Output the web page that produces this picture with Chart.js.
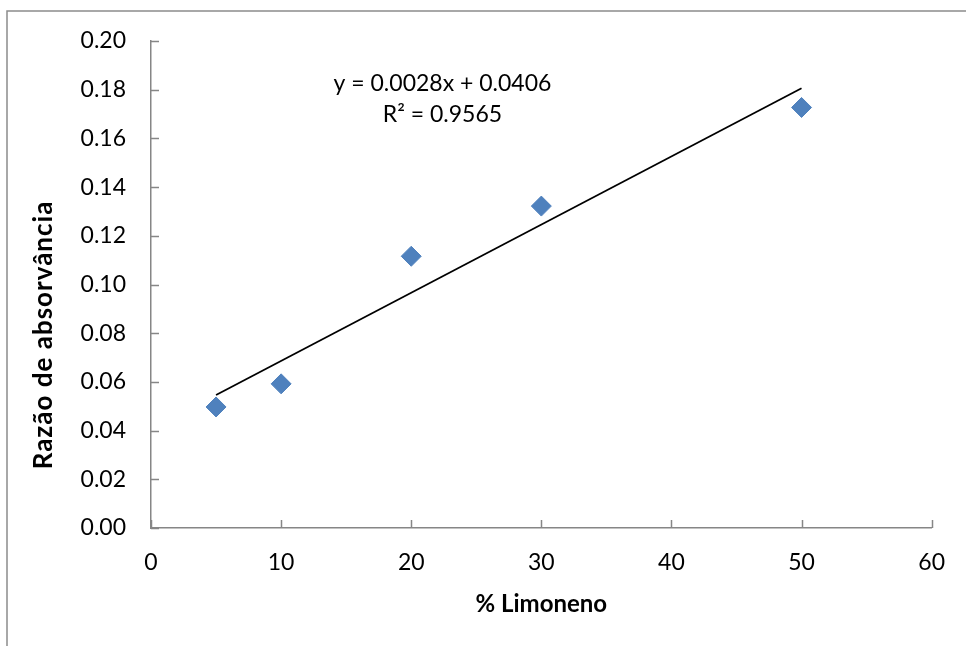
<!DOCTYPE html>
<html>
<head>
<meta charset="utf-8">
<script src="https://cdn.jsdelivr.net/npm/chart.js@4.4.1/dist/chart.umd.min.js"></script>
<style>
  html, body { margin: 0; padding: 0; background: #fff; }
  #wrap { width: 966px; height: 646px; }
</style>
</head>
<body>
<div id="wrap"><canvas id="limChart" width="966" height="646"></canvas></div>
<script>
// data
const limoneno = [5, 10, 20, 30, 50];
const razao = [0.0497, 0.0592, 0.1116, 0.1322, 0.1727];

// linear trendline endpoints (y = 0.0028x + 0.0406)
const trendX = [5, 50];
const trendY = [0.0546, 0.1806];

const equationLines = ['y = 0.0028x + 0.0406', 'R\u00b2 = 0.9565'];
const equationPos = [[22.4, 0.1825], [22.4, 0.1697]];
const yTitle = 'Razão de absorvância';
const xTitle = '% Limoneno';

const FONT = 'Lato, "Liberation Sans", sans-serif';
const AXIS_GREY = '#868686';

// Excel style: ticks point into the plot, frame around chart, trendline label
const excelBits = {
    id: 'excelBits',
    beforeDraw(chart) {
        const ctx = chart.ctx;
        ctx.save();
        ctx.strokeStyle = '#8c8c8c';
        ctx.lineWidth = 1.5;
        ctx.strokeRect(7, 11, 1200, 1000);
        ctx.restore();
    },
    afterDraw(chart) {
        const ctx = chart.ctx;
        const xs = chart.scales.x;
        const ys = chart.scales.y;
        const area = chart.chartArea;
        ctx.save();
        ctx.strokeStyle = AXIS_GREY;
        ctx.lineWidth = 1.5;
        ctx.beginPath();
        xs.ticks.forEach(t => {
            const px = Math.round(xs.getPixelForValue(t.value)) + 0.5;
            ctx.moveTo(px, area.bottom);
            ctx.lineTo(px, area.bottom - 8);
        });
        ys.ticks.forEach(t => {
            const py = Math.round(ys.getPixelForValue(t.value)) + 0.5;
            ctx.moveTo(area.left, py);
            ctx.lineTo(area.left + 8, py);
        });
        ctx.stroke();

        ctx.fillStyle = '#000';
        ctx.font = '23px ' + FONT;
        ctx.textAlign = 'center';
        ctx.textBaseline = 'middle';
        equationLines.forEach((txt, i) => {
            const p = equationPos[i];
            ctx.fillText(txt, xs.getPixelForValue(p[0]), ys.getPixelForValue(p[1]));
        });

        // y axis title sits lower than the middle of the axis, as in Excel
        ctx.font = 'bold 26px ' + FONT;
        ctx.letterSpacing = '1px';
        ctx.translate(44, 335);
        ctx.rotate(-Math.PI / 2);
        ctx.fillText(yTitle, 0, 0);
        ctx.restore();
    }
};

new Chart('limChart', {
    type: 'scatter',
    data: {
        datasets: [
            {
                label: yTitle,
                data: limoneno.map((x, i) => ({ x: x, y: razao[i] })),
                backgroundColor: '#4F81BD',
                borderColor: '#4F81BD',
                borderWidth: 1,
                pointStyle: 'rectRot',
                pointRadius: 10,
                order: 1
            },
            {
                type: 'line',
                label: 'Linear',
                data: trendX.map((x, i) => ({ x: x, y: trendY[i] })),
                borderColor: '#000',
                borderWidth: 1.8,
                pointRadius: 0,
                fill: false,
                order: 2
            }
        ]
    },
    options: {
        responsive: false,
        animation: false,
        devicePixelRatio: 1,
        layout: { padding: { left: 0, right: 31, top: 41, bottom: 0 } },
        plugins: {
            legend: { display: false },
            tooltip: { enabled: false }
        },
        scales: {
            x: {
                type: 'linear',
                position: 'bottom',
                min: 0,
                max: 60,
                ticks: {
                    stepSize: 10,
                    color: '#000',
                    padding: 21,
                    font: { family: FONT, size: 23 }
                },
                grid: { drawOnChartArea: false, drawTicks: false },
                border: { display: true, color: AXIS_GREY, width: 1.5 },
                title: {
                    display: true,
                    text: xTitle,
                    color: '#000',
                    font: { family: FONT, size: 24, weight: 'bold' },
                    padding: { top: 0, bottom: 27 }
                },
                afterFit(scale) { scale.height = 118; }
            },
            y: {
                type: 'linear',
                min: 0,
                max: 0.2,
                ticks: {
                    stepSize: 0.02,
                    color: '#000',
                    padding: 25,
                    font: { family: FONT, size: 23 },
                    callback: v => v.toFixed(2)
                },
                grid: { drawOnChartArea: false, drawTicks: false },
                border: { display: true, color: AXIS_GREY, width: 1.5 },
                afterFit(scale) { scale.width = 151; }
            }
        }
    },
    plugins: [excelBits]
});
</script>
</body>
</html>
